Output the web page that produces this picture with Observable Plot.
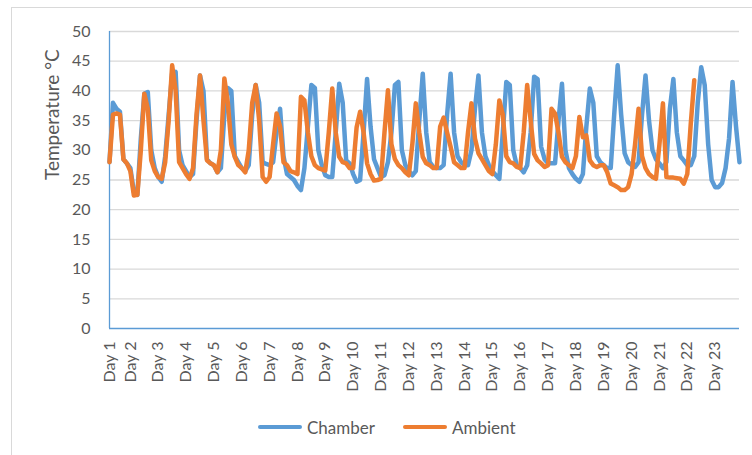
<!DOCTYPE html>
<html>
<head>
<meta charset="utf-8">
<script src="https://cdn.jsdelivr.net/npm/d3@7"></script>
<script src="https://cdn.jsdelivr.net/npm/@observablehq/plot@0.6"></script>
<style>
  html, body { margin: 0; padding: 0; background: #fff; }
  body { width: 752px; height: 455px; overflow: hidden; position: relative; font-family: Lato, "Open Sans", sans-serif; }
  #frame { position: absolute; left: 11px; top: 7px; width: 800px; height: 500px; border: 1px solid #d9d9d9; box-sizing: border-box; }
  #chart { position: absolute; left: 0; top: 0; }
  .leg { position: absolute; top: 417px; height: 20px; display: flex; align-items: center; font-size: 17px; color: #595959; }
  .leg .sw { width: 44px; height: 4px; border-radius: 2px; margin-right: 5px; }
</style>
</head>
<body>
<div id="frame"></div>
<div id="chart"></div>
<div class="leg" id="leg1" style="left:258px"></div>
<div class="leg" id="leg2" style="left:403px"></div>
<script>
// Category labels: one label per day, Day 1 is a partial day
const dayLabels = ["Day 1","Day 2","Day 3","Day 4","Day 5","Day 6","Day 7","Day 8","Day 9","Day 10","Day 11","Day 12","Day 13","Day 14","Day 15","Day 16","Day 17","Day 18","Day 19","Day 20","Day 21","Day 22","Day 23"];
const readingsPerDay = [6,8,8,8,8,8,8,8,8,8,8,8,8,8,8,8,8,8,8,8,8,8,8];

const seriesNames = ["Chamber", "Ambient"];
const seriesColors = ["#5b9bd5", "#ed7d31"];

// Chamber temperature (°C), 3-hourly readings
const chamber = [
  28, 38, 37, 36.5, 28.5, 27.8,
  27, 23, 22.5, 32, 39.5, 39.8, 30, 27,
  25.5, 24.7, 29, 36, 43, 43.2, 30, 27.5,
  26.5, 25.5, 26, 35, 42.6, 40, 28.5, 27.8,
  27.5, 26.3, 27, 36, 40.5, 40, 29, 28,
  27, 26.5, 27.5, 36, 41, 38, 28, 27.7,
  27.5, 28, 33, 37, 29, 26, 25.5, 25,
  24, 23.3, 27, 34, 41, 40.5, 30, 27.5,
  25.8, 25.5, 25.5, 33, 41.2, 38, 28.3, 27.8,
  26, 24.7, 25, 33, 42, 34, 28.5, 27,
  25.5, 25.8, 28, 33, 41, 41.5, 30, 27.5,
  26.5, 25.8, 26.5, 35, 42.9, 33, 28, 27.2,
  27, 27, 27.5, 36, 42.9, 33, 29, 28,
  27.5, 27.5, 30, 37, 42.6, 33, 29, 27.5,
  26.5, 25.8, 25.2, 33, 41.5, 41, 30, 27.5,
  27, 26.3, 27.5, 33, 42.4, 42, 30.6, 28.5,
  27.8, 27.8, 27.8, 35, 41.2, 30, 27, 26,
  25.2, 24.7, 26, 34, 40.4, 38, 29, 28,
  27.5, 27, 27, 36, 44.3, 36, 29.5, 28,
  27.5, 27.2, 28, 36, 42.6, 35, 30, 28.5,
  27.8, 27, 28, 37, 42, 33, 29, 28.3,
  27.5, 27.5, 29, 38, 44, 41, 31, 25,
  23.8, 23.8, 24.5, 27, 32, 41.5, 34, 28
];

// Ambient temperature (°C), 3-hourly readings (ends on Day 22)
const ambient = [
  28, 36, 36.2, 36, 28.5, 27.8,
  26.5, 22.4, 22.5, 30, 39.5, 37, 28.3, 26.5,
  25.5, 25.2, 28, 35, 44.3, 40, 28, 27,
  26, 25.2, 27, 36, 42.6, 35, 28.3, 27.8,
  27.5, 26.3, 30, 42.1, 38, 31, 28.9, 27.5,
  27, 26.3, 30, 38, 41, 35, 25.5, 24.7,
  25.5, 31, 36.2, 34, 28, 27.5, 26.5, 26.3,
  26, 39, 38.4, 33, 29, 27.5, 27, 26.8,
  26.6, 33, 40.4, 33, 28.9, 28, 27.8, 27,
  27, 33.9, 36.5, 33, 27.8, 26, 24.9, 25,
  25.2, 33, 40.1, 31, 28.5, 27.5, 27, 26.3,
  25.8, 31, 37.9, 33, 28.9, 27.8, 27.5, 27,
  27, 34, 35.5, 33, 30.6, 28, 27.5, 27,
  27, 33, 37.9, 32, 29.5, 28.5, 27.5, 26.5,
  26, 31, 38.4, 36, 29, 28, 27.8, 27.2,
  27, 33, 41, 35, 29.4, 28.3, 27.8, 27.2,
  27.5, 37, 36.2, 33, 28.9, 28, 27.5, 27,
  29, 35.6, 32.2, 32.5, 28.3, 27.5, 27.2, 27.5,
  27.5, 26.3, 24.4, 24.1, 23.8, 23.3, 23.3, 23.8,
  26, 31, 37, 29, 27, 26, 25.5, 25.2,
  31, 37.9, 25.5, 25.4, 25.4, 25.3, 25.2, 24.4,
  26, 34.5, 41.8
];

const yTicks = [0, 5, 10, 15, 20, 25, 30, 35, 40, 45, 50];
const yTitle = "Temperature °C";

// first reading index of every day
const dayStart = [];
readingsPerDay.reduce((acc, n) => { dayStart.push(acc); return acc + n; }, 0);

const chamberRows = chamber.map((v, i) => ({i, v}));
const ambientRows = ambient.map((v, i) => ({i, v}));

const chart = Plot.plot({
  width: 752,
  height: 400,
  marginLeft: 109,
  marginRight: 13,
  marginTop: 31,
  marginBottom: 72,
  style: {fontFamily: "Lato, 'Open Sans', sans-serif", fontSize: "16px", color: "#595959", background: "transparent"},
  x: {domain: [0, chamber.length - 1]},
  y: {domain: [0, 50]},
  marks: [
    Plot.gridY(yTicks.filter(d => d > 0), {stroke: "#d9d9d9", strokeOpacity: 1, strokeWidth: 1.3}),
    Plot.ruleY([0], {stroke: "#5b9bd5", strokeWidth: 1.3}),
    Plot.ruleX([0], {stroke: "#5b9bd5", strokeWidth: 1.3}),
    Plot.line(chamberRows, {x: "i", y: "v", stroke: seriesColors[0], strokeWidth: 4.5, strokeLinejoin: "round", strokeLinecap: "round"}),
    Plot.line(ambientRows, {x: "i", y: "v", stroke: seriesColors[1], strokeWidth: 4.5, strokeLinejoin: "round", strokeLinecap: "round"}),
    Plot.axisY({ticks: yTicks, tickSize: 0, tickPadding: 19, label: null, fontSize: 16}),
    Plot.axisX({ticks: dayStart, tickFormat: d => dayLabels[dayStart.indexOf(d)], tickRotate: -90, tickSize: 0, tickPadding: 13, label: null, fontSize: 16}),
    Plot.text([yTitle], {frameAnchor: "left", dx: -57, rotate: -90, fontSize: 19, fill: "#595959"})
  ]
});
document.getElementById("chart").appendChild(chart);

// legend
[["leg1", 0], ["leg2", 1]].forEach(([id, k]) => {
  const el = document.getElementById(id);
  const sw = document.createElement("span");
  sw.className = "sw";
  sw.style.background = seriesColors[k];
  el.appendChild(sw);
  const t = document.createElement("span");
  t.textContent = seriesNames[k];
  el.appendChild(t);
});
</script>
</body>
</html>
